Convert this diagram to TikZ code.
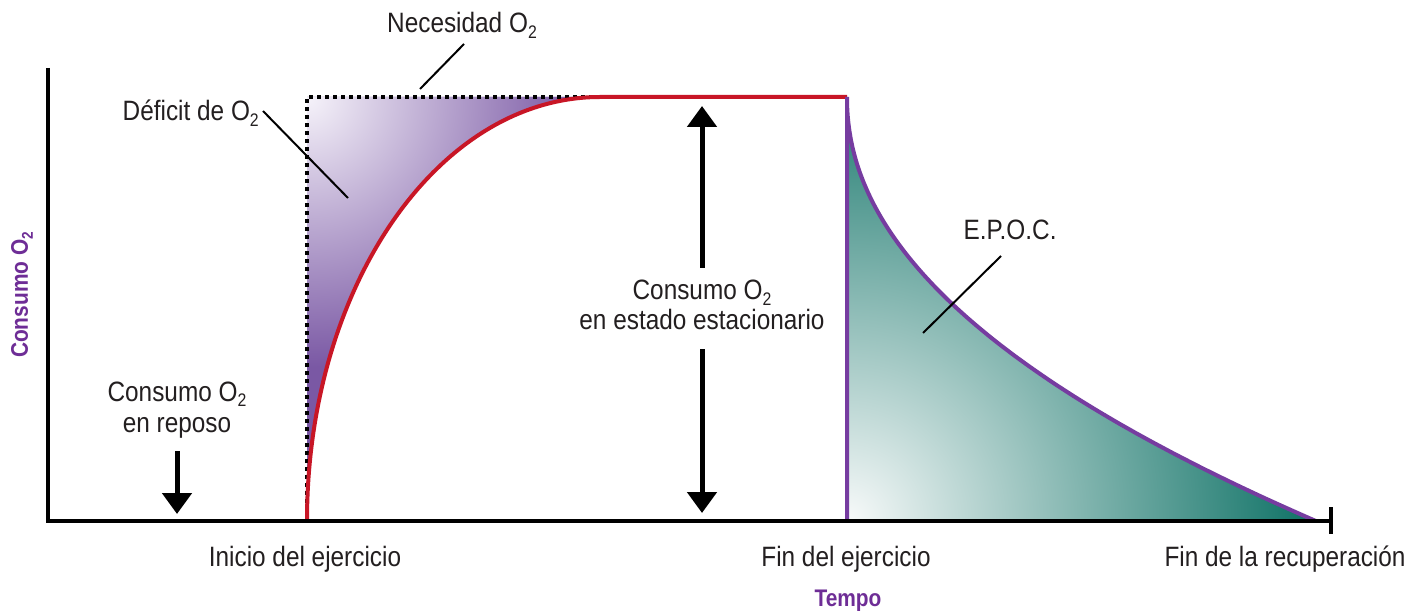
\documentclass[tikz,border=0pt]{standalone}
\usepackage{fontspec}
\setmainfont{Liberation Sans}[FakeStretch=0.87]
\usetikzlibrary{arrows.meta}
\definecolor{txt}{RGB}{35,31,32}
\definecolor{purp}{RGB}{118,60,160}
\definecolor{lblpurp}{RGB}{110,45,150}
\definecolor{redc}{RGB}{200,22,38}
\definecolor{deflight}{RGB}{246,243,250}
\definecolor{defdark}{RGB}{122,88,164}
\definecolor{eplight}{RGB}{248,250,250}
\definecolor{epdark}{RGB}{12,112,100}
\pgfdeclareradialshading{defshade}{\pgfpoint{0bp}{0bp}}{color(0bp)=(deflight); color(25bp)=(defdark); color(50bp)=(defdark)}
\pgfdeclareradialshading{epshade}{\pgfpoint{0bp}{0bp}}{color(0bp)=(eplight); color(25bp)=(epdark); color(50bp)=(epdark)}
\newcommand\subtwo{\raisebox{-0.2em}{\scalebox{0.65}{2}}}
\tikzset{
  lbl/.style={font=\fontsize{28}{32}\selectfont, text=txt, inner sep=0pt},
  axlbl/.style={font=\fontsize{24}{28}\selectfont\bfseries, text=lblpurp, inner sep=0pt},
  leader/.style={draw=black, line width=2pt},
  bigarrow/.style={draw=black, line width=5pt, -{Triangle[width=29pt,length=21pt]}},
  axisline/.style={draw=black, line width=4pt, line join=miter},
  dotline/.style={draw=black, line width=4pt, dash pattern=on 4pt off 4pt},
  redline/.style={draw=redc, line width=4pt},
  purpline/.style={draw=purp, line width=4pt},
  riseshape/.style={x radius=293, y radius=424, start angle=180, end angle=90},
}
\begin{document}
\begin{tikzpicture}[x=1pt,y=1pt]
\useasboundingbox (0,0) rectangle (1423,611);
\fill[white] (0,0) rectangle (1423,611);

% deficit fill
\begin{scope}
\clip (307,514) -- (307,90) arc[riseshape] -- cycle;
\fill[defdark] (300,80) rectangle (620,520);
\shade[shading=defshade] (307,514) circle (270);
\end{scope}

% EPOC fill
\begin{scope}
\clip (847,90) -- (847,514) -- plot[domain=0.001:1, samples=120, smooth] ({847+469*\x^2.5}, {90+424*(1-\x^1.2)}) -- (1316,90) -- cycle;
\fill[epdark] (840,80) rectangle (1330,520);
\shade[shading=epshade] (847,90) circle (470);
\end{scope}

% O2 need (dotted)
\draw[dotline] (307,92) -- (307,514) -- (600,514);

% red consumption curve
\draw[redline] (307,90) arc[riseshape] -- (847,514);

% EPOC curve
\draw[purpline] (847,90) -- (847,514) -- plot[domain=0.001:1, samples=120, smooth] ({847+469*\x^2.5}, {90+424*(1-\x^1.2)});

% axes
\coordinate (ytop) at (48,543);
\coordinate (orig) at (48,90);
\coordinate (xend) at (1331,90);
\coordinate (tickT) at (1331,104);
\coordinate (tickB) at (1331,77);
\draw[axisline] (ytop) -- (orig) -- (xend);
\draw[axisline] (tickT) -- (tickB);

% arrows
\coordinate (rA) at (177,160);
\coordinate (rB) at (177,97);
\draw[bigarrow] (rA) -- (rB);
\coordinate (suA) at (702,343);
\coordinate (suB) at (702,505);
\coordinate (sdA) at (702,262);
\coordinate (sdB) at (702,98);
\draw[bigarrow] (suA) -- (suB);
\draw[bigarrow] (sdA) -- (sdB);

% leaders
\coordinate (necA) at (464,567);
\coordinate (necB) at (420,522);
\coordinate (defA) at (263,500);
\coordinate (defB) at (348,413);
\coordinate (epA) at (1001,355);
\coordinate (epB) at (923,278);
\draw[leader] (necA) -- (necB);
\draw[leader] (defA) -- (defB);
\draw[leader] (epA) -- (epB);

% labels
\node[lbl, anchor=base] (nec) at (462,578) {Necesidad O\subtwo};
\node[lbl, anchor=base east] (def) at (259,490) {Déficit de O\subtwo};
\node[lbl, anchor=base] (rep1) at (177,210) {Consumo O\subtwo};
\node[lbl, anchor=base] (rep2) at (177,179) {en reposo};
\node[lbl, anchor=base] (ss1) at (702,311) {Consumo O\subtwo};
\node[lbl, anchor=base] (ss2) at (702,281) {en estado estacionario};
\node[lbl, anchor=base] (epoc) at (1010,371) {E.P.O.C.};
\node[lbl, anchor=base] (ini) at (305,45) {Inicio del ejercicio};
\node[lbl, anchor=base] (fin) at (846,45) {Fin del ejercicio};
\node[lbl, anchor=base] (rec) at (1285,45) {Fin de la recuperación};
\node[axlbl, anchor=base] (tempo) at (848,5) {Tempo};
\node[axlbl, anchor=base, rotate=90] (cons) at (28,316) {Consumo O\subtwo};
\end{tikzpicture}
\end{document}
